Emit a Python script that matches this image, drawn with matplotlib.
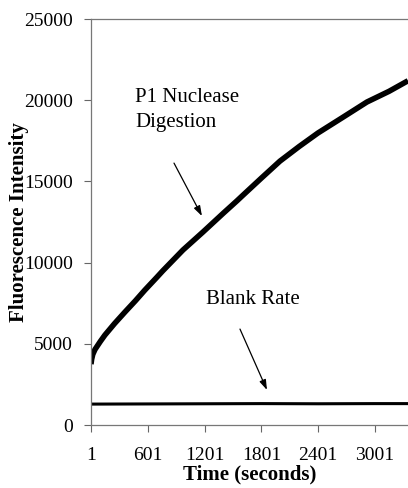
import matplotlib
matplotlib.use("Agg")
import matplotlib.pyplot as plt

plt.rcParams['font.family'] = ['Liberation Serif', 'DejaVu Serif']

# P1 nuclease digestion curve
digest_t = [1, 8, 20, 43, 100, 148, 250, 360, 470, 570, 697, 760, 973, 1183,
            1400, 1542, 1606, 1800, 1997, 2200, 2398, 2662, 2916, 3150, 3350]
digest_y = [3750, 4050, 4350, 4650, 5150, 5540, 6250, 6960, 7650, 8310, 9100,
            9500, 10780, 11880, 13050, 13800, 14150, 15200, 16250, 17150,
            17980, 18950, 19890, 20550, 21200]

# Blank rate (flat)
blank_t = [1, 600, 1200, 1800, 2400, 3000, 3350]
blank_y = [1290, 1300, 1310, 1320, 1310, 1320, 1320]

xticks = [1, 601, 1201, 1801, 2401, 3001]
yticks = [0, 5000, 10000, 15000, 20000, 25000]

fig = plt.figure(figsize=(4.08, 4.88), dpi=100)
ax = fig.add_axes([0.223, 0.129, 0.777, 0.832])

ax.plot(digest_t, digest_y, color='black', lw=4.0, solid_capstyle='butt')
ax.plot(blank_t, blank_y, color='black', lw=2.2, solid_capstyle='butt')

ax.set_xlim(1, 3350)
ax.set_ylim(0, 25000)
ax.set_xticks(xticks)
ax.set_xticklabels([str(v) for v in xticks])
ax.set_yticks(yticks)
ax.set_yticklabels([str(v) for v in yticks])

ax.tick_params(direction='out', length=5, width=0.8, color='#666666',
               labelsize=14)
ax.tick_params(axis='x', pad=11)
ax.tick_params(axis='y', pad=8)

for s in ['left', 'bottom', 'top']:
    ax.spines[s].set_color('#777777')
    ax.spines[s].set_linewidth(0.9)
ax.spines['right'].set_visible(False)

ax.set_xlabel('Time (seconds)', fontsize=15, fontweight='bold', labelpad=0.5)
ax.set_ylabel('Fluorescence Intensity', fontsize=15, fontweight='bold')
ax.yaxis.set_label_coords(-0.196, 0.5)

ax.text(466, 19890, 'P1 Nuclease', fontsize=15, ha='left', va='baseline')
ax.text(466, 18350, 'Digestion', fontsize=15, ha='left', va='baseline')
ax.text(1216, 7450, 'Blank Rate', fontsize=15, ha='left', va='baseline')

ax.annotate('', xy=(1173, 12870), xytext=(878, 16130),
            arrowprops=dict(arrowstyle='-|>,head_length=0.6,head_width=0.2',
                            color='black', lw=0.9, shrinkA=0, shrinkB=0))
ax.annotate('', xy=(1860, 2160), xytext=(1575, 5910),
            arrowprops=dict(arrowstyle='-|>,head_length=0.6,head_width=0.2',
                            color='black', lw=0.9, shrinkA=0, shrinkB=0))

fig.savefig('out.png', dpi=100)
